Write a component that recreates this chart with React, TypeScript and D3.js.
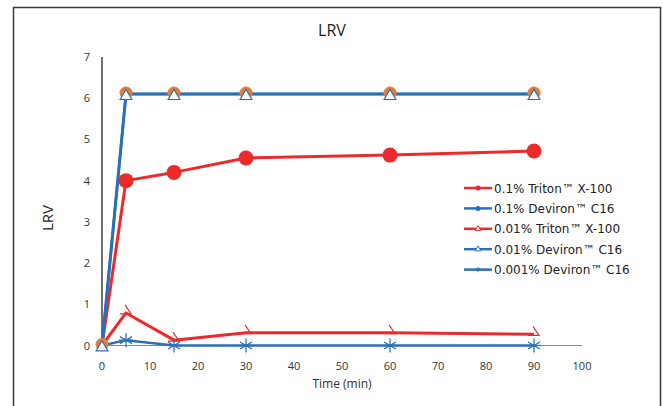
import React, { useEffect, useRef } from 'react';
import * as d3 from 'd3';

const times = [0, 5, 15, 30, 60, 90];
const triton01 = [0, 4.0, 4.2, 4.55, 4.62, 4.72];
const deviron01 = [0, 6.1, 6.1, 6.1, 6.1, 6.1];
const triton001 = [0, 0.79, 0.13, 0.31, 0.31, 0.27];
const deviron001 = [0, 6.1, 6.1, 6.1, 6.1, 6.1];
const deviron0001 = [0, 0.13, 0, 0, 0, 0];
const xTicks = [0, 10, 20, 30, 40, 50, 60, 70, 80, 90, 100];
const yTicks = [0, 1, 2, 3, 4, 5, 6, 7];
const legendLabels = [
  '0.1% Triton™ X-100',
  '0.1% Deviron™ C16',
  '0.01% Triton™ X-100',
  '0.01% Deviron™ C16',
  '0.001% Deviron™ C16',
];

const RED = '#ec2a2c';
const BLUE = '#2b70b6';
const ORANGE = '#e27d3a';

const App: React.FC = () => {
  const ref = useRef<SVGSVGElement>(null);

  useEffect(() => {
    if (!ref.current) return;
    const svg = d3.select(ref.current);
    svg.selectAll('*').remove();

    const x = d3.scaleLinear().domain([0, 100]).range([102, 582]);
    const y = d3.scaleLinear().domain([0, 7]).range([345.5, 57]);

    // frame
    svg.append('rect').attr('x', 13.5).attr('y', 7.5).attr('width', 647).attr('height', 420)
      .attr('fill', '#fff').attr('stroke', '#3a3a3a').attr('stroke-width', 1.5);

    // title
    svg.append('text').attr('x', 332).attr('y', 36).attr('text-anchor', 'middle')
      .attr('font-size', '16px').attr('fill', '#222').text('LRV');

    // y tick labels
    svg.selectAll('.yt').data(yTicks).enter().append('text')
      .attr('x', 90).attr('y', d => y(d) + 4).attr('text-anchor', 'end')
      .attr('font-size', '11px').attr('fill', '#333').text(d => d);

    // x tick labels
    svg.selectAll('.xt').data(xTicks).enter().append('text')
      .attr('x', d => x(d)).attr('y', 370).attr('text-anchor', 'middle')
      .attr('font-size', '11px').attr('fill', '#333').text(d => d);

    svg.append('text').attr('x', 342).attr('y', 388).attr('text-anchor', 'middle')
      .attr('font-size', '12px').attr('fill', '#333').text('Time (min)');

    svg.append('text').attr('transform', `translate(53,${218}) rotate(-90)`)
      .attr('text-anchor', 'middle').attr('font-size', '15px').attr('fill', '#222').text('LRV');

    // axes
    svg.append('line').attr('x1', x(0)).attr('x2', x(100)).attr('y1', y(0)).attr('y2', y(0))
      .attr('stroke', '#888').attr('stroke-width', 1);
    svg.append('line').attr('x1', x(0)).attr('x2', x(0)).attr('y1', y(0)).attr('y2', y(7))
      .attr('stroke', '#111').attr('stroke-width', 1.2);

    const line = d3.line<[number, number]>().x(d => x(d[0])).y(d => y(d[1]));
    const pts = (vals: number[]) => times.map((t, i) => [t, vals[i]] as [number, number]);

    const drawLine = (vals: number[], color: string, w: number) =>
      svg.append('path').attr('d', line(pts(vals))).attr('fill', 'none')
        .attr('stroke', color).attr('stroke-width', w).attr('stroke-linejoin', 'round');

    drawLine(deviron0001, BLUE, 2.5);
    drawLine(triton001, RED, 3);
    drawLine(triton01, RED, 3);
    drawLine(deviron01, BLUE, 3);
    drawLine(deviron001, BLUE, 2.5);

    // asterisk markers
    pts(deviron0001).slice(1).forEach(([t, v]) => {
      const cx = x(t), cy = y(v), r = 7;
      [0, 60, 120].forEach(a => {
        const rad = (a + 90) * Math.PI / 180;
        svg.append('line')
          .attr('x1', cx - r * Math.cos(rad)).attr('y1', cy - r * Math.sin(rad))
          .attr('x2', cx + r * Math.cos(rad)).attr('y2', cy + r * Math.sin(rad))
          .attr('stroke', BLUE).attr('stroke-width', 1.3);
      });
      svg.append('line').attr('x1', cx - 7).attr('x2', cx + 7).attr('y1', cy).attr('y2', cy)
        .attr('stroke', BLUE).attr('stroke-width', 1.3);
    });

    // broken triangle markers of 0.01% Triton
    pts(triton001).slice(1).forEach(([t, v]) => {
      const cx = x(t), cy = y(v);
      svg.append('path').attr('d', `M${cx - 1},${cy - 8} L${cx + 5},${cy + 1} L${cx - 6},${cy + 1}`)
        .attr('fill', 'none').attr('stroke', RED).attr('stroke-width', 1.2);
    });

    // red circles
    svg.selectAll('.rc').data(pts(triton01).slice(1)).enter().append('circle')
      .attr('cx', d => x(d[0])).attr('cy', d => y(d[1])).attr('r', 7.5).attr('fill', RED);

    // orange circles + white triangles
    pts(deviron01).forEach(([t, v]) => {
      const cx = x(t), cy = y(v);
      svg.append('circle').attr('cx', cx).attr('cy', cy - 1).attr('r', 6.5).attr('fill', ORANGE);
      svg.append('path').attr('d', d3.symbol(d3.symbolTriangle, 60)())
        .attr('transform', `translate(${cx},${cy + 2})`)
        .attr('fill', '#fff').attr('stroke', BLUE).attr('stroke-width', 1.2);
    });

    // legend
    const colors = [RED, BLUE, RED, BLUE, BLUE];
    legendLabels.forEach((lab, i) => {
      const ly = 188 + i * 20.4;
      svg.append('line').attr('x1', 464).attr('x2', 492).attr('y1', ly).attr('y2', ly)
        .attr('stroke', colors[i]).attr('stroke-width', 2.5);
      if (i < 2) {
        svg.append('circle').attr('cx', 478).attr('cy', ly).attr('r', 2.5).attr('fill', colors[i]);
      } else if (i < 4) {
        svg.append('path').attr('d', d3.symbol(d3.symbolTriangle, 14)())
          .attr('transform', `translate(478,${ly})`).attr('fill', '#fff')
          .attr('stroke', colors[i]).attr('stroke-width', 1);
      } else {
        svg.append('path').attr('d', d3.symbol(d3.symbolAsterisk, 18)())
          .attr('transform', `translate(478,${ly})`).attr('fill', 'none')
          .attr('stroke', colors[i]).attr('stroke-width', 1);
      }
      svg.append('text').attr('x', 494).attr('y', ly + 4.5)
        .attr('font-family', '"DejaVu Sans", sans-serif')
        .attr('font-size', '12px').attr('fill', '#222').text(lab);
    });
  }, []);

  return (
    <svg
      ref={ref}
      width={663}
      height={406}
      style={{ position: 'absolute', left: 0, top: 0, fontFamily: '"Open Sans", "DejaVu Sans", sans-serif' }}
    />
  );
};

export default App;
